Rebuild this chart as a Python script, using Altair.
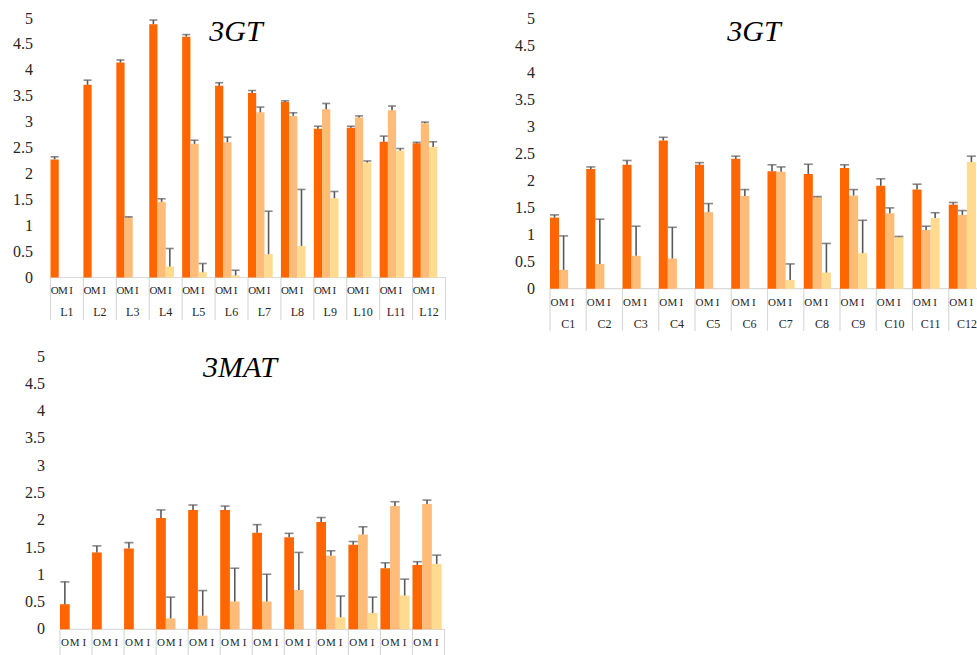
import altair as alt
import pandas as pd

SERIF = "Liberation Serif"
TEXT_COLOR = "#262626"
ERR_COLOR = "#595959"
CELL_LINE = "#D9D9D9"

SERIES = ["O", "M", "I"]
SERIES_COLORS = ["#FF6600", "#FFBB78", "#FFDA8F"]
Y_TICKS = [0, 0.5, 1, 1.5, 2, 2.5, 3, 3.5, 4, 4.5, 5]

# 3GT by line (L1-L12): means and upper error lengths per series
L_GROUPS = ["L1", "L2", "L3", "L4", "L5", "L6", "L7", "L8", "L9", "L10", "L11", "L12"]
L_O = [2.28, 3.72, 4.15, 4.89, 4.65, 3.70, 3.56, 3.39, 2.87, 2.89, 2.62, 2.59]
L_O_ERR = [0.05, 0.09, 0.05, 0.08, 0.04, 0.06, 0.05, 0.02, 0.05, 0.03, 0.11, 0.02]
L_M = [None, None, 1.16, 1.46, 2.58, 2.61, 3.19, 3.12, 3.25, 3.09, 3.23, 2.98]
L_M_ERR = [None, None, 0.01, 0.06, 0.07, 0.10, 0.10, 0.06, 0.11, 0.03, 0.08, 0.02]
L_I = [None, None, None, 0.21, 0.10, 0.04, 0.45, 0.61, 1.53, 2.22, 2.45, 2.52]
L_I_ERR = [None, None, None, 0.35, 0.17, 0.10, 0.83, 1.09, 0.13, 0.03, 0.04, 0.10]

# 3GT by clone (C1-C12)
C_GROUPS = ["C1", "C2", "C3", "C4", "C5", "C6", "C7", "C8", "C9", "C10", "C11", "C12"]
C_O = [1.32, 2.22, 2.30, 2.75, 2.30, 2.41, 2.18, 2.13, 2.24, 1.91, 1.84, 1.56]
C_O_ERR = [0.05, 0.04, 0.08, 0.06, 0.04, 0.05, 0.12, 0.18, 0.06, 0.13, 0.10, 0.04]
C_M = [0.35, 0.46, 0.61, 0.56, 1.42, 1.72, 2.17, 1.70, 1.73, 1.40, 1.09, 1.37]
C_M_ERR = [0.63, 0.83, 0.55, 0.58, 0.16, 0.12, 0.09, 0.01, 0.11, 0.10, 0.07, 0.08]
C_I = [None, None, None, None, None, None, 0.16, 0.30, 0.66, 0.96, 1.31, 2.35]
C_I_ERR = [None, None, None, None, None, None, 0.30, 0.54, 0.61, 0.01, 0.10, 0.11]

# 3MAT by line
M_GROUPS = ["L1", "L2", "L3", "L4", "L5", "L6", "L7", "L8", "L9", "L10", "L11", "L12"]
M_O = [0.46, 1.41, 1.48, 2.04, 2.19, 2.19, 1.77, 1.69, 1.97, 1.55, 1.12, 1.18]
M_O_ERR = [0.41, 0.12, 0.11, 0.15, 0.09, 0.07, 0.15, 0.07, 0.08, 0.06, 0.10, 0.06]
M_M = [None, None, None, 0.20, 0.25, 0.51, 0.51, 0.72, 1.35, 1.74, 2.26, 2.30]
M_M_ERR = [None, None, None, 0.39, 0.46, 0.61, 0.50, 0.69, 0.09, 0.14, 0.08, 0.07]
M_I = [None, None, None, None, None, None, None, None, 0.22, 0.30, 0.62, 1.20]
M_I_ERR = [None, None, None, None, None, None, None, None, 0.39, 0.29, 0.30, 0.16]


def panel(groups, values, errors, title, x_range, y_range, slot_pad, cap,
          cell_bottom, show_groups, group_label_y, letter_y, y_label_x,
          title_x, title_y):
    """One bar panel drawn on its own pixel ranges inside a shared canvas."""
    rows = []
    for s, vals, errs in zip(SERIES, values, errors):
        for g, v, e in zip(groups, vals, errs):
            if v is None:
                continue
            rows.append({"group": g, "series": s, "value": v, "top": v + e})
    data = pd.DataFrame(rows)
    letters_df = pd.DataFrame([{"group": g, "series": s} for g in groups for s in SERIES])
    groups_df = pd.DataFrame({"group": groups})
    last_df = pd.DataFrame({"group": groups[-1:]})
    ticks_df = pd.DataFrame({"tick": Y_TICKS})

    xs = alt.Scale(domain=groups, range=x_range, paddingInner=0, paddingOuter=0)
    ys = alt.Scale(domain=[0, 5], range=y_range, nice=False)
    x = alt.X("group:N", sort=groups, scale=xs, axis=None)
    xo = alt.XOffset(
        "series:N",
        sort=SERIES,
        scale=alt.Scale(domain=SERIES, paddingInner=0, paddingOuter=slot_pad, align=0),
    )
    axis_y = y_range[0]

    base = alt.Chart(data).encode(x=x, xOffset=xo)
    bars = base.mark_bar().encode(
        y=alt.Y("value:Q", scale=ys, axis=None),
        color=alt.Color(
            "series:N",
            scale=alt.Scale(domain=SERIES, range=SERIES_COLORS),
            legend=None,
        ),
    )
    whiskers = base.mark_rule(color=ERR_COLOR, strokeWidth=1.6).encode(
        y=alt.Y("value:Q", scale=ys, axis=None), y2="top:Q"
    )
    caps = base.mark_tick(
        color=ERR_COLOR, thickness=1.6, size=cap, orient="horizontal"
    ).encode(y=alt.Y("top:Q", scale=ys, axis=None))

    # category cell borders below the bars
    baseline = alt.Chart(groups_df.head(1)).mark_rule(
        color=CELL_LINE, strokeWidth=1.2
    ).encode(x=alt.value(x_range[0]), x2=alt.value(x_range[1]), y=alt.value(axis_y))
    cell_left = alt.Chart(groups_df).mark_rule(color=CELL_LINE, strokeWidth=1.2).encode(
        x=alt.X("group:N", sort=groups, scale=xs, axis=None, bandPosition=0),
        y=alt.value(axis_y),
        y2=alt.value(cell_bottom),
    )
    cell_right = alt.Chart(last_df).mark_rule(color=CELL_LINE, strokeWidth=1.2).encode(
        x=alt.X("group:N", sort=groups, scale=xs, axis=None, bandPosition=1),
        y=alt.value(axis_y),
        y2=alt.value(cell_bottom),
    )
    letters = alt.Chart(letters_df).mark_text(
        font=SERIF, fontSize=11, color=TEXT_COLOR, baseline="middle"
    ).encode(x=x, xOffset=xo, y=alt.value(letter_y), text="series:N")

    y_labels = alt.Chart(ticks_df).mark_text(
        font=SERIF, fontSize=16, color=TEXT_COLOR, align="right", baseline="middle"
    ).encode(
        x=alt.value(y_label_x),
        y=alt.Y("tick:Q", scale=ys, axis=None),
        text=alt.Text("tick:Q", format=".1~f"),
    )
    heading = alt.Chart(pd.DataFrame({"t": [title]})).mark_text(
        font=SERIF, fontSize=30, fontStyle="italic", baseline="alphabetic",
        align="center", color="#000000",
    ).encode(x=alt.value(title_x), y=alt.value(title_y), text="t:N")

    layers = [baseline, cell_left, cell_right, bars, whiskers, caps, letters, y_labels, heading]
    if show_groups:
        layers.append(
            alt.Chart(groups_df).mark_text(
                font=SERIF, fontSize=12, color=TEXT_COLOR, baseline="middle"
            ).encode(x=x, y=alt.value(group_label_y), text="group:N")
        )
    return alt.layer(*layers)


gt_lines = panel(
    L_GROUPS, [L_O, L_M, L_I], [L_O_ERR, L_M_ERR, L_I_ERR], "3GT",
    x_range=[50.5, 445.5], y_range=[277.5, 18.5], slot_pad=0.5, cap=8,
    cell_bottom=320, show_groups=True, group_label_y=312, letter_y=290.5,
    y_label_x=33, title_x=236, title_y=41,
)
gt_clones = panel(
    C_GROUPS, [C_O, C_M, C_I], [C_O_ERR, C_M_ERR, C_I_ERR], "3GT",
    x_range=[550, 985], y_range=[288.7, 19.3], slot_pad=0.5, cap=9,
    cell_bottom=331, show_groups=True, group_label_y=323.5, letter_y=302.7,
    y_label_x=535, title_x=754, title_y=41,
)
mat_lines = panel(
    M_GROUPS, [M_O, M_M, M_I], [M_O_ERR, M_M_ERR, M_I_ERR], "3MAT",
    x_range=[60, 444.5], y_range=[629.3, 356.7], slot_pad=0.15, cap=9,
    cell_bottom=660, show_groups=False, group_label_y=0, letter_y=642.7,
    y_label_x=45, title_x=240, title_y=377,
)

chart = (
    alt.layer(gt_lines, gt_clones, mat_lines)
    .resolve_scale(x="independent", y="independent", xOffset="independent")
    .properties(
        width=977,
        height=655,
        padding=0,
        autosize=alt.AutoSizeParams(type="none"),
        background="white",
    )
    .configure_view(stroke="transparent", strokeWidth=0)
)

chart.save("out.html", embed_options={"renderer": "svg", "actions": False})
